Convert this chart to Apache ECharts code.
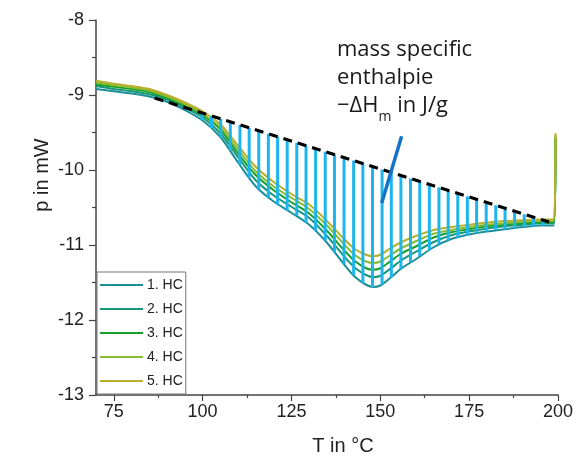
<!DOCTYPE html>
<html>
<head>
<meta charset="utf-8">
<script src="https://cdn.jsdelivr.net/npm/echarts@6/dist/echarts.min.js"></script>
<style>html,body{margin:0;padding:0;background:#fff;}#c{width:576px;height:460px;}</style>
</head>
<body>
<div id="c"></div>
<script>
// ---- data ----
const seriesNames = ['1. HC', '2. HC', '3. HC', '4. HC', '5. HC'];
const temps = [70, 75, 80, 85, 90, 95, 100, 105, 110, 115, 120, 125, 130, 135, 140, 143, 146, 148, 150, 153, 156, 160, 165, 170, 175, 180, 185, 190, 195, 198.8, 199.3];
const hc1 = [-8.92, -8.95, -8.98, -9.02, -9.09, -9.20, -9.34, -9.56, -9.90, -10.22, -10.42, -10.57, -10.73, -10.97, -11.27, -11.43, -11.53, -11.56, -11.54, -11.43, -11.31, -11.19, -11.03, -10.92, -10.86, -10.82, -10.79, -10.76, -10.74, -10.74, -9.60];
const hc2 = [-8.88, -8.92, -8.95, -8.99, -9.06, -9.17, -9.30, -9.51, -9.83, -10.14, -10.34, -10.49, -10.64, -10.88, -11.16, -11.31, -11.40, -11.43, -11.41, -11.31, -11.20, -11.09, -10.96, -10.87, -10.82, -10.78, -10.75, -10.73, -10.71, -10.71, -9.58];
const hc3 = [-8.86, -8.89, -8.92, -8.96, -9.04, -9.14, -9.27, -9.46, -9.78, -10.07, -10.27, -10.43, -10.58, -10.81, -11.08, -11.22, -11.31, -11.33, -11.31, -11.21, -11.11, -11.02, -10.90, -10.83, -10.79, -10.75, -10.73, -10.71, -10.70, -10.70, -9.56];
const hc4 = [-8.83, -8.87, -8.90, -8.94, -9.02, -9.12, -9.25, -9.43, -9.73, -10.02, -10.22, -10.37, -10.52, -10.74, -11.00, -11.14, -11.22, -11.24, -11.22, -11.13, -11.04, -10.95, -10.85, -10.80, -10.76, -10.73, -10.71, -10.69, -10.68, -10.68, -9.53];
const hc5 = [-8.81, -8.85, -8.88, -8.92, -9.00, -9.10, -9.22, -9.39, -9.68, -9.96, -10.16, -10.32, -10.46, -10.68, -10.93, -11.06, -11.13, -11.15, -11.13, -11.04, -10.96, -10.88, -10.80, -10.76, -10.73, -10.70, -10.68, -10.67, -10.66, -10.66, -9.51];

// baseline (dashed) endpoints
const baselineT = [86.5, 197.5];
const baselineP = [-9.04, -10.694];

// hatch lines (enthalpy area)
const hatchT = [99.8, 102.5, 105.1, 107.8, 110.5, 113.1, 115.8, 118.5, 121.1, 123.8, 126.5, 129.1, 131.8, 134.5, 137.1, 139.8, 142.5, 145.1, 147.8, 150.5, 153.1, 155.8, 158.5, 161.1, 163.8, 166.5, 169.1, 171.8, 174.5, 177.1, 179.8, 182.5, 185.1, 187.8, 190.5, 193.1, 195.8];
const hatchTop = [-9.238, -9.278, -9.317, -9.357, -9.398, -9.436, -9.477, -9.517, -9.556, -9.596, -9.636, -9.675, -9.715, -9.755, -9.794, -9.834, -9.874, -9.913, -9.953, -9.994, -10.032, -10.073, -10.113, -10.152, -10.192, -10.232, -10.271, -10.311, -10.351, -10.390, -10.430, -10.470, -10.509, -10.549, -10.590, -10.628, -10.669];
const hatchBottom = [-9.33, -9.44, -9.57, -9.74, -9.93, -10.10, -10.26, -10.37, -10.46, -10.54, -10.61, -10.70, -10.81, -10.94, -11.10, -11.26, -11.40, -11.51, -11.56, -11.53, -11.43, -11.32, -11.23, -11.15, -11.07, -10.99, -10.94, -10.90, -10.87, -10.84, -10.82, -10.80, -10.79, -10.78, -10.76, -10.75, -10.74];

// annotation pointer line
const pointerT = [156.0, 150.4];
const pointerP = [-9.55, -10.44];

const xMajor = [75, 100, 125, 150, 175, 200];
const xMinor = [87.5, 112.5, 137.5, 162.5, 187.5];

// ---- chart ----
const colors = ['#1B8F98', '#16977A', '#16A02A', '#86BC30', '#B8AF2C'];
const curves = [hc1, hc2, hc3, hc4, hc5];
const zip = (a, b) => a.map((v, i) => [v, b[i]]);

const axisColor = '#444';
const font = 'Liberation Sans, Arial, sans-serif';

const chart = echarts.init(document.getElementById('c'), null, {renderer: 'canvas'});
const series = curves.map((c, i) => ({
  name: seriesNames[i],
  type: 'line',
  data: zip(temps, c),
  symbol: 'none',
  showSymbol: false,
  smooth: 0.3,
  lineStyle: {color: colors[i], width: 2},
  itemStyle: {color: colors[i]},
  z: 2
}));

series.push({
  name: 'hatch',
  type: 'custom',
  data: hatchT.map((t, i) => [t, hatchTop[i], hatchBottom[i]]),
  encode: {x: 0, y: [1, 2]},
  renderItem: (params, api) => {
    const p1 = api.coord([api.value(0), api.value(1)]);
    const p2 = api.coord([api.value(0), api.value(2)]);
    return {type: 'line', shape: {x1: p1[0], y1: p1[1], x2: p2[0], y2: p2[1]},
      style: {stroke: '#1DB5F0', lineWidth: 3}};
  },
  z: 3,
  silent: true
});

series.push({
  name: 'baseline',
  type: 'line',
  data: zip(baselineT, baselineP),
  symbol: 'none',
  lineStyle: {color: '#000', width: 3, type: [9, 6]},
  z: 4,
  silent: true
});

series.push({
  name: 'pointer',
  type: 'line',
  data: zip(pointerT, pointerP),
  symbol: 'none',
  lineStyle: {color: '#1473C6', width: 3.5},
  z: 5,
  silent: true
});

const option = {
  animation: false,
  backgroundColor: '#fff',
  grid: {left: 96, right: 17, top: 20, bottom: 65, containLabel: false},
  legend: {
    data: seriesNames,
    orient: 'vertical',
    left: 97, top: 272,
    padding: [6, 3, 6, 3],
    icon: 'path://M0,0L43,0L43,2L0,2Z',
    symbolKeepAspect: true,
    itemWidth: 43, itemHeight: 14, itemGap: 10,
    borderColor: '#777', borderWidth: 1,
    textStyle: {fontFamily: font, fontSize: 14, color: '#222', padding: [0, 0, 0, -1]},
    backgroundColor: '#fff'
  },
  xAxis: [{
    type: 'value', min: 70, max: 200,
    axisLine: {show: true, lineStyle: {color: axisColor, width: 1.5}},
    axisTick: {show: true, customValues: xMajor, length: 6, lineStyle: {color: axisColor, width: 1.2}},
    axisLabel: {customValues: xMajor, fontFamily: font, fontSize: 18, color: '#222', margin: 8},
    splitLine: {show: false}
  }, {
    type: 'value', min: 70, max: 200, position: 'bottom',
    axisLine: {show: false},
    axisTick: {show: true, customValues: xMinor, length: 3, lineStyle: {color: axisColor, width: 1.2}},
    axisLabel: {show: false},
    splitLine: {show: false}
  }],
  yAxis: {
    type: 'value', min: -13, max: -8, interval: 1,
    axisLine: {show: true, lineStyle: {color: axisColor, width: 1.5}},
    axisTick: {show: true, length: 7, lineStyle: {color: axisColor, width: 1.2}},
    minorTick: {show: true, splitNumber: 2, length: 4, lineStyle: {color: axisColor, width: 1.2}},
    axisLabel: {fontFamily: font, fontSize: 18, color: '#222', margin: 12},
    splitLine: {show: false}
  },
  graphic: [
    {type: 'text', left: 337, top: 36, z: 10,
      style: {
        text: 'mass specific\nenthalpie\n\u2212\u0394H{sub|m} in J/g',
        font: '22px "Open Sans", "Noto Sans", sans-serif',
        fill: '#1a1a1a', lineHeight: 28,
        rich: {sub: {fontSize: 14, fontFamily: 'Open Sans', fill: '#1a1a1a', verticalAlign: 'bottom', lineHeight: 28, padding: [0, 0, -4, 0]}}
      }},
    {type: 'text', x: 343, y: 446, z: 10,
      style: {text: 'T in \u00b0C', font: '20px ' + font, fill: '#222', align: 'center', verticalAlign: 'middle'}},
    {type: 'text', x: 42, y: 175, rotation: Math.PI / 2, z: 10,
      style: {text: 'p in mW', font: '20px ' + font, fill: '#222', align: 'center', verticalAlign: 'middle'}}
  ],
  series: series
};
chart.setOption(option);
</script>
</body>
</html>
